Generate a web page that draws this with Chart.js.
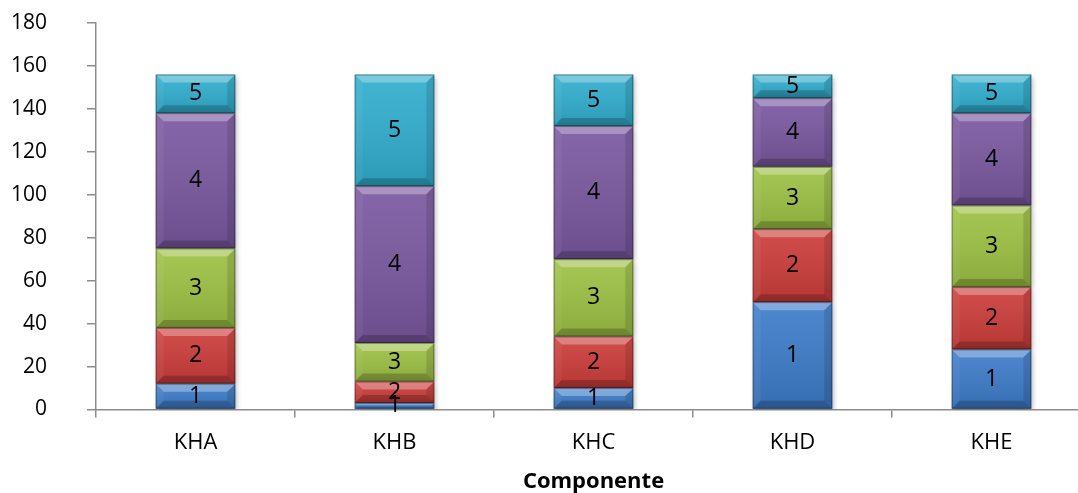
<!DOCTYPE html>
<html>
<head>
<meta charset="utf-8">
<script src="https://cdn.jsdelivr.net/npm/chart.js@4"></script>
<style>
  html, body { margin: 0; padding: 0; overflow: hidden; background: #fff; }
</style>
</head>
<body>
<canvas id="chart" width="1095" height="493"></canvas>
<script>
const categories = ["KHA", "KHB", "KHC", "KHD", "KHE"];
const seriesNames = ["1", "2", "3", "4", "5"];
const series1 = [12, 3, 10, 50, 28];
const series2 = [26, 10, 24, 34, 29];
const series3 = [37, 18, 36, 29, 38];
const series4 = [63, 73, 62, 32, 43];
const series5 = [18, 52, 24, 11, 18];
const yMax = 180;
const yStep = 20;

const colors = ["#3d7cc9", "#cc3d3a", "#9dc144", "#7a58a0", "#31aecf"];
const FONT = '"Open Sans", "Noto Sans", sans-serif';

function poly(ctx, pts, fill) {
  ctx.beginPath();
  ctx.moveTo(pts[0][0], pts[0][1]);
  for (let i = 1; i < pts.length; i++) ctx.lineTo(pts[i][0], pts[i][1]);
  ctx.closePath();
  ctx.fillStyle = fill;
  ctx.fill();
}

// bevelled look on each bar segment, plus the series name in the middle
const bevel = {
  id: "bevel",
  beforeDatasetDraw(chart) {
    const ctx = chart.ctx;
    ctx.save();
    ctx.shadowColor = "rgba(0,0,0,0.3)";
    ctx.shadowBlur = 5;
    ctx.shadowOffsetX = 2;
    ctx.shadowOffsetY = 2;
  },
  afterDatasetDraw(chart) {
    chart.ctx.restore();
  },
  afterDatasetsDraw(chart) {
    const ctx = chart.ctx;
    const segs = [];
    chart.data.datasets.forEach((ds, i) => {
      chart.getDatasetMeta(i).data.forEach(bar => {
        const { x, y, base, width } = bar.getProps(["x", "y", "base", "width"], true);
        const l = x - width / 2, r = x + width / 2;
        const t = Math.min(y, base), b = Math.max(y, base);
        const h = b - t;
        if (h <= 0) return;
        const d = Math.min(8, h / 2.5);
        const g = ctx.createLinearGradient(0, t, 0, b);
        g.addColorStop(0, "rgba(255,255,255,0.08)");
        g.addColorStop(1, "rgba(0,0,0,0.12)");
        ctx.fillStyle = g;
        ctx.fillRect(l, t, width, h);
        poly(ctx, [[l, t], [r, t], [r - d, t + d], [l + d, t + d]], "rgba(255,255,255,0.3)");
        poly(ctx, [[l, b], [r, b], [r - d, b - d], [l + d, b - d]], "rgba(0,0,0,0.2)");
        poly(ctx, [[l, t], [l + d, t + d], [l + d, b - d], [l, b]], "rgba(255,255,255,0.05)");
        poly(ctx, [[r, t], [r - d, t + d], [r - d, b - d], [r, b]], "rgba(0,0,0,0.12)");
        ctx.strokeStyle = "rgba(0,0,0,0.35)";
        ctx.lineWidth = 1;
        ctx.strokeRect(l + 0.5, t + 0.5, width - 1, h - 1);
        segs.push({ text: ds.label, x, y: (t + b) / 2 });
      });
    });
    ctx.save();
    ctx.font = "23px " + FONT;
    ctx.fillStyle = "#000";
    ctx.textAlign = "center";
    ctx.textBaseline = "middle";
    segs.forEach(s => ctx.fillText(s.text, s.x, s.y));
    ctx.restore();
  }
};

const allSeries = [series1, series2, series3, series4, series5];

new Chart(document.getElementById("chart"), {
  type: "bar",
  data: {
    labels: categories,
    datasets: allSeries.map((data, i) => ({
      label: seriesNames[i],
      data: data,
      backgroundColor: colors[i],
      borderWidth: 0,
      barPercentage: 0.8,
      categoryPercentage: 0.5
    }))
  },
  plugins: [bevel],
  options: {
    responsive: false,
    animation: false,
    layout: { padding: { top: 23, right: 4, left: 0, bottom: 0 } },
    plugins: {
      legend: { display: false },
      tooltip: { enabled: false }
    },
    scales: {
      x: {
        stacked: true,
        afterFit: s => { s.height = 83.5; },
        border: { color: "#8c8c8c", width: 1.5 },
        grid: { drawOnChartArea: false, color: "#8c8c8c", lineWidth: 1.5, tickLength: 8, offset: true },
        ticks: { color: "#000", padding: 12, font: { family: FONT, size: 22 } },
        title: {
          display: true,
          text: "Componente",
          color: "#000",
          padding: { top: 0, bottom: 0 },
          font: { family: FONT, size: 22, weight: "bold", lineHeight: 1.0 }
        }
      },
      y: {
        stacked: true,
        min: 0,
        max: yMax,
        afterFit: s => {
          s.width = 96;
          s.paddingTop = 0;
          s.paddingBottom = 0;
        },
        border: { color: "#8c8c8c", width: 1.5 },
        grid: { drawOnChartArea: false, color: "#8c8c8c", lineWidth: 1.5, tickLength: 9 },
        ticks: { stepSize: yStep, color: "#000", padding: 40, font: { family: FONT, size: 21 } }
      }
    }
  }
});
</script>
</body>
</html>
